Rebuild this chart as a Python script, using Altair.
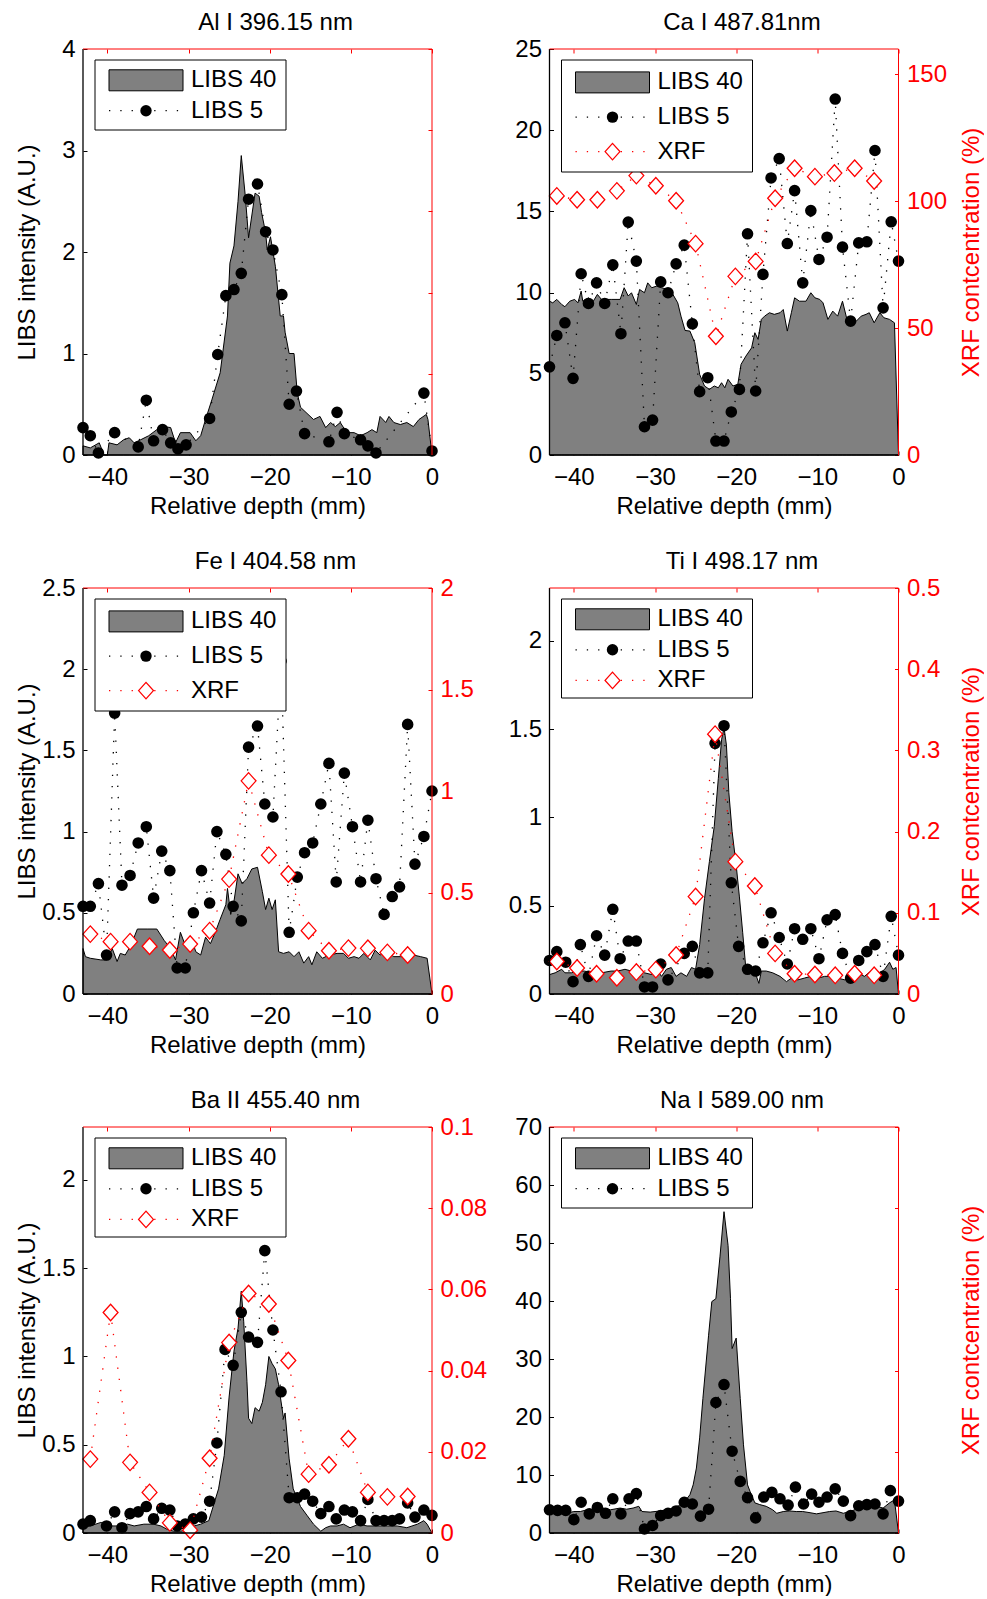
import altair as alt
import pandas as pd

FONT = "Liberation Sans"
GREY = "#808080"
RED = "#ff0000"
W, H = 349, 406
DIAMOND = "M-0.9,0L0,-1L0.9,0L0,1Z"
DOTS = [1.3, 10]

X_DOMAIN = [-43, 0]
X_TICKS = [-40, -30, -20, -10, 0]
LEGEND_LABELS = ["LIBS 40", "LIBS 5", "XRF"]
DEPTH_TITLE = "Relative depth (mm)"
LIBS_TITLE = "LIBS intensity (A.U.)"
XRF_TITLE = "XRF contcentration (%)"
NUM = "~r"

# ---- Al I 396.15 nm : (depth mm, intensity) ----
AL_LIBS40 = [(-43.0, 0.09), (-42.1, 0.07), (-41.0, 0.12), (-40.4, 0.0), (-40.0, 0.0), (-39.8, 0.12),
             (-38.8, 0.10), (-38.0, 0.15), (-37.3, 0.17), (-36.7, 0.12), (-35.9, 0.15), (-34.9, 0.19),
             (-33.9, 0.25), (-33.0, 0.28), (-32.2, 0.27), (-31.6, 0.12), (-31.0, 0.22), (-29.8, 0.22),
             (-29.1, 0.14), (-28.5, 0.19), (-27.9, 0.35), (-27.1, 0.55), (-26.1, 0.81), (-25.2, 1.37),
             (-24.9, 1.89), (-24.4, 2.06), (-23.9, 2.50), (-23.5, 2.95), (-23.0, 2.55), (-22.6, 2.14),
             (-21.8, 2.58), (-21.3, 2.55), (-21.0, 2.39), (-20.5, 2.19), (-20.3, 2.02), (-19.9, 2.15),
             (-19.3, 1.86), (-18.7, 1.37), (-18.3, 1.37), (-18.1, 1.21), (-17.6, 1.00), (-17.0, 1.00),
             (-16.6, 0.61), (-16.2, 0.47), (-15.4, 0.41), (-14.6, 0.35), (-13.8, 0.38), (-13.1, 0.27),
             (-12.5, 0.32), (-11.9, 0.28), (-11.3, 0.32), (-10.5, 0.22), (-9.6, 0.22), (-8.8, 0.19),
             (-8.0, 0.22), (-7.4, 0.25), (-6.8, 0.22), (-6.4, 0.38), (-5.7, 0.32), (-5.3, 0.38),
             (-4.7, 0.32), (-3.9, 0.30), (-3.1, 0.32), (-2.3, 0.28), (-1.6, 0.35), (-0.7, 0.40),
             (-0.5, 0.35), (0.0, 0.0)]
AL_LIBS5 = [(-43.0, 0.27), (-42.1, 0.19), (-41.1, 0.02), (-39.1, 0.22), (-36.2, 0.08), (-35.2, 0.54),
            (-34.3, 0.14), (-33.2, 0.25), (-32.2, 0.12), (-31.3, 0.06), (-30.3, 0.10), (-27.4, 0.36),
            (-26.4, 0.99), (-25.4, 1.57), (-24.4, 1.63), (-23.5, 1.79), (-22.6, 2.52), (-21.5, 2.67),
            (-20.5, 2.20), (-19.6, 2.02), (-18.5, 1.58), (-17.6, 0.50), (-16.7, 0.63), (-15.7, 0.21),
            (-12.7, 0.13), (-11.7, 0.42), (-10.8, 0.21), (-8.8, 0.15), (-7.9, 0.09), (-6.9, 0.02),
            (-1.0, 0.61), (0.0, 0.04)]
AL_XRF = []

# ---- Ca I 487.81 nm ----
CA_LIBS40 = [(-43.0, 9.47), (-42.6, 9.37), (-42.1, 9.58), (-41.5, 9.27), (-41.1, 9.13), (-40.5, 9.47),
             (-39.9, 9.58), (-39.5, 9.37), (-39.1, 10.09), (-38.9, 9.47), (-38.2, 9.68), (-37.6, 9.47),
             (-37.1, 9.89), (-36.6, 9.58), (-36.0, 9.58), (-35.4, 9.58), (-34.3, 9.58), (-33.8, 10.30),
             (-33.3, 9.79), (-32.9, 9.99), (-32.3, 9.27), (-31.9, 10.19), (-31.3, 9.99), (-30.9, 10.60),
             (-30.4, 10.30), (-29.8, 10.40), (-29.2, 10.30), (-28.4, 10.19), (-27.8, 9.89), (-27.2, 9.37),
             (-26.8, 8.55), (-26.3, 7.67), (-25.7, 7.63), (-25.1, 6.91), (-24.5, 4.96), (-23.9, 4.25),
             (-23.3, 4.04), (-22.7, 4.25), (-22.2, 4.14), (-21.8, 4.45), (-21.4, 4.14), (-21.0, 4.66),
             (-20.4, 4.25), (-19.8, 4.35), (-19.4, 5.58), (-18.8, 6.09), (-18.1, 6.60), (-17.7, 7.53),
             (-17.3, 7.12), (-16.9, 8.35), (-16.5, 8.55), (-15.9, 8.76), (-15.3, 8.66), (-14.6, 8.76),
             (-14.2, 8.96), (-13.7, 7.63), (-13.2, 8.76), (-12.8, 9.68), (-12.2, 9.47), (-11.4, 9.47),
             (-10.8, 9.99), (-10.3, 9.68), (-9.7, 9.58), (-9.3, 9.37), (-8.7, 8.35), (-8.1, 8.86),
             (-7.5, 8.55), (-6.9, 9.47), (-6.4, 8.45), (-5.8, 8.04), (-5.2, 8.24), (-4.6, 8.55),
             (-4.0, 8.66), (-3.6, 8.76), (-3.0, 8.14), (-2.3, 8.76), (-1.8, 8.45), (-1.1, 8.35),
             (-0.5, 8.14), (0.0, 0.0)]
CA_LIBS5 = [(-43.0, 5.43), (-42.1, 7.36), (-41.1, 8.14), (-40.1, 4.72), (-39.1, 11.16), (-38.2, 9.33),
            (-37.2, 10.60), (-36.2, 9.33), (-35.2, 11.71), (-34.2, 7.47), (-33.3, 14.34), (-32.3, 11.94),
            (-31.3, 1.74), (-30.3, 2.15), (-29.3, 10.66), (-28.4, 9.99), (-27.4, 11.77), (-26.4, 12.92),
            (-25.4, 8.08), (-24.5, 3.90), (-23.5, 4.76), (-22.5, 0.86), (-21.5, 0.86), (-20.6, 2.65),
            (-19.6, 4.04), (-18.6, 13.62), (-17.6, 3.94), (-16.7, 11.12), (-15.7, 17.06), (-14.7, 18.25),
            (-13.7, 13.02), (-12.8, 16.28), (-11.8, 10.60), (-10.8, 15.05), (-9.8, 12.04), (-8.8, 13.41),
            (-7.8, 21.92), (-6.9, 12.80), (-5.9, 8.24), (-4.9, 13.06), (-3.9, 13.13), (-2.9, 18.75),
            (-1.9, 9.06), (-0.9, 14.36), (0.0, 11.94)]
CA_XRF = [(-42.1, 102.1), (-39.6, 100.6), (-37.1, 100.6), (-34.7, 104.1), (-32.3, 110.1), (-29.9, 106.1),
          (-27.4, 100.2), (-25.0, 83.3), (-22.5, 46.8), (-20.1, 70.4), (-17.6, 76.3), (-15.2, 101.2),
          (-12.8, 113.0), (-10.3, 109.7), (-7.9, 111.1), (-5.4, 113.0), (-3.0, 108.0)]

# ---- Fe I 404.58 nm ----
FE_LIBS40 = [(-43.0, 0.28), (-42.7, 0.23), (-42.1, 0.22), (-40.8, 0.21), (-40.0, 0.21), (-39.4, 0.28),
             (-38.8, 0.20), (-38.4, 0.25), (-37.8, 0.24), (-37.1, 0.30), (-36.3, 0.40), (-35.1, 0.40),
             (-33.9, 0.40), (-33.0, 0.33), (-32.2, 0.28), (-31.6, 0.21), (-31.0, 0.38), (-30.4, 0.30),
             (-29.7, 0.35), (-29.1, 0.26), (-28.5, 0.24), (-27.9, 0.35), (-27.3, 0.31), (-26.7, 0.38),
             (-26.1, 0.46), (-25.4, 0.55), (-25.2, 0.65), (-24.8, 0.49), (-24.4, 0.57), (-23.9, 0.74),
             (-23.4, 0.68), (-22.8, 0.71), (-22.2, 0.77), (-21.5, 0.78), (-20.9, 0.63), (-20.5, 0.52),
             (-20.1, 0.59), (-19.7, 0.52), (-19.3, 0.58), (-18.9, 0.26), (-18.3, 0.25), (-17.6, 0.26),
             (-17.0, 0.23), (-16.4, 0.26), (-15.8, 0.19), (-15.2, 0.23), (-14.8, 0.18), (-14.2, 0.26),
             (-13.5, 0.22), (-12.7, 0.24), (-11.7, 0.25), (-10.9, 0.25), (-10.3, 0.22), (-9.6, 0.23),
             (-9.0, 0.22), (-8.4, 0.25), (-7.6, 0.21), (-7.0, 0.27), (-6.4, 0.24), (-5.5, 0.26),
             (-4.7, 0.23), (-3.9, 0.23), (-3.1, 0.23), (-2.3, 0.24), (-1.4, 0.23), (-0.6, 0.22),
             (0.0, 0.0)]
FE_LIBS5 = [(-43.0, 0.54), (-42.1, 0.54), (-41.1, 0.68), (-40.1, 0.24), (-39.1, 1.73), (-38.2, 0.67),
            (-37.2, 0.73), (-36.2, 0.93), (-35.2, 1.03), (-34.3, 0.59), (-33.3, 0.88), (-32.3, 0.76),
            (-31.4, 0.16), (-30.4, 0.16), (-29.4, 0.50), (-28.4, 0.76), (-27.4, 0.56), (-26.5, 1.00),
            (-25.4, 0.86), (-24.5, 0.54), (-23.5, 0.45), (-22.6, 1.52), (-21.5, 1.65), (-20.6, 1.17),
            (-19.6, 1.09), (-18.6, 2.05), (-17.6, 0.38), (-16.6, 0.72), (-15.7, 0.87), (-14.7, 0.93),
            (-13.7, 1.17), (-12.7, 1.42), (-11.8, 0.69), (-10.8, 1.36), (-9.8, 1.03), (-8.8, 0.69),
            (-7.9, 1.07), (-6.9, 0.71), (-5.9, 0.49), (-4.9, 0.60), (-4.0, 0.66), (-3.0, 1.66),
            (-2.1, 0.80), (-1.0, 0.97), (0.0, 1.25)]
FE_XRF = [(-42.1, 0.295), (-39.6, 0.258), (-37.2, 0.258), (-34.8, 0.235), (-32.3, 0.217), (-29.8, 0.246),
          (-27.4, 0.312), (-25.0, 0.566), (-22.6, 1.05), (-20.1, 0.684), (-17.7, 0.591), (-15.2, 0.312),
          (-12.7, 0.213), (-10.3, 0.226), (-7.9, 0.225), (-5.5, 0.205), (-3.0, 0.192)]

# ---- Ti I 498.17 nm ----
TI_LIBS40 = [(-43.0, 0.11), (-42.3, 0.12), (-41.5, 0.14), (-41.1, 0.12), (-40.3, 0.12), (-39.5, 0.13),
             (-38.7, 0.13), (-37.8, 0.12), (-36.6, 0.12), (-35.4, 0.13), (-34.6, 0.13), (-33.7, 0.14),
             (-32.9, 0.13), (-32.1, 0.15), (-31.3, 0.12), (-30.4, 0.11), (-29.8, 0.14), (-29.2, 0.10),
             (-28.6, 0.14), (-28.0, 0.15), (-27.4, 0.10), (-26.8, 0.12), (-26.1, 0.10), (-25.5, 0.15),
             (-25.0, 0.14), (-24.5, 0.28), (-23.9, 0.54), (-23.3, 0.75), (-22.7, 0.95), (-22.2, 1.22),
             (-21.8, 1.44), (-21.5, 1.51), (-21.2, 1.41), (-20.9, 1.14), (-20.5, 0.92), (-20.0, 0.73),
             (-19.6, 0.55), (-19.2, 0.35), (-18.8, 0.14), (-18.1, 0.12), (-17.5, 0.10), (-17.2, 0.06),
             (-16.9, 0.13), (-16.3, 0.13), (-15.5, 0.12), (-14.6, 0.10), (-13.8, 0.07), (-13.2, 0.09),
             (-12.4, 0.08), (-11.6, 0.09), (-10.8, 0.10), (-9.9, 0.09), (-9.1, 0.10), (-8.3, 0.10),
             (-7.5, 0.09), (-6.6, 0.08), (-5.8, 0.10), (-5.0, 0.12), (-4.2, 0.10), (-3.4, 0.13),
             (-2.5, 0.11), (-1.7, 0.14), (-1.1, 0.18), (-0.7, 0.14), (-0.3, 0.15), (0.0, 0.0)]
TI_LIBS5 = [(-43.0, 0.19), (-42.1, 0.24), (-41.0, 0.18), (-40.1, 0.07), (-39.2, 0.28), (-38.2, 0.10),
            (-37.2, 0.33), (-36.2, 0.22), (-35.2, 0.48), (-34.3, 0.20), (-33.3, 0.30), (-32.3, 0.30),
            (-31.3, 0.04), (-30.3, 0.04), (-29.3, 0.17), (-28.4, 0.08), (-26.4, 0.23), (-25.4, 0.27),
            (-24.5, 0.12), (-23.5, 0.12), (-22.6, 1.42), (-21.5, 1.52), (-20.6, 0.63), (-19.7, 0.27),
            (-18.6, 0.14), (-17.6, 0.13), (-16.7, 0.29), (-15.7, 0.46), (-14.7, 0.32), (-13.7, 0.17),
            (-12.8, 0.37), (-11.8, 0.31), (-10.8, 0.37), (-9.8, 0.20), (-8.8, 0.42), (-7.8, 0.45),
            (-6.9, 0.23), (-5.9, 0.09), (-4.9, 0.19), (-3.9, 0.24), (-2.9, 0.28), (-1.9, 0.10),
            (-0.9, 0.44), (0.0, 0.22)]
TI_XRF = [(-42.1, 0.040), (-39.6, 0.032), (-37.2, 0.025), (-34.7, 0.020), (-32.3, 0.027), (-29.9, 0.030),
          (-27.4, 0.048), (-25.0, 0.120), (-22.6, 0.320), (-20.1, 0.163), (-17.7, 0.133), (-15.2, 0.050),
          (-12.8, 0.025), (-10.3, 0.024), (-7.8, 0.023), (-5.4, 0.025), (-3.0, 0.023)]

# ---- Ba II 455.40 nm ----
BA_LIBS40 = [(-43.0, 0.03), (-42.1, 0.04), (-40.8, 0.06), (-39.6, 0.04), (-38.4, 0.04), (-37.5, 0.05),
             (-36.7, 0.04), (-35.5, 0.05), (-34.3, 0.05), (-33.4, 0.04), (-32.6, 0.02), (-31.8, 0.01),
             (-31.0, 0.01), (-30.2, 0.02), (-29.3, 0.04), (-28.5, 0.05), (-27.5, 0.07), (-26.9, 0.16),
             (-26.3, 0.25), (-25.6, 0.44), (-25.0, 0.77), (-24.4, 1.03), (-23.9, 1.16), (-23.5, 1.37),
             (-23.2, 1.20), (-22.8, 0.86), (-22.6, 0.65), (-22.2, 0.62), (-21.8, 0.71), (-21.3, 0.69),
             (-20.9, 0.74), (-20.5, 0.84), (-20.1, 1.00), (-19.7, 0.96), (-19.3, 0.93), (-18.9, 0.84),
             (-18.3, 0.65), (-18.1, 0.68), (-17.6, 0.42), (-17.1, 0.25), (-16.2, 0.15), (-15.4, 0.10),
             (-14.6, 0.05), (-13.7, 0.01), (-13.1, 0.03), (-12.5, 0.04), (-11.7, 0.04), (-10.9, 0.05),
             (-10.1, 0.03), (-9.0, 0.05), (-8.0, 0.04), (-6.8, 0.04), (-5.5, 0.04), (-4.3, 0.04),
             (-3.1, 0.03), (-1.8, 0.05), (-1.0, 0.07), (-0.6, 0.05), (0.0, 0.0)]
BA_LIBS5 = [(-43.0, 0.05), (-42.1, 0.07), (-40.1, 0.04), (-39.1, 0.12), (-38.2, 0.03), (-37.2, 0.11),
            (-36.2, 0.12), (-35.2, 0.15), (-34.3, 0.08), (-33.3, 0.14), (-32.3, 0.13), (-31.4, 0.04),
            (-30.4, 0.05), (-29.4, 0.08), (-28.4, 0.09), (-27.4, 0.18), (-26.5, 0.51), (-25.5, 1.04),
            (-24.5, 0.95), (-23.5, 1.25), (-22.6, 1.11), (-21.5, 1.08), (-20.6, 1.60), (-19.6, 1.15),
            (-18.6, 0.80), (-17.6, 0.20), (-16.6, 0.20), (-15.7, 0.22), (-14.7, 0.18), (-13.7, 0.11),
            (-12.7, 0.15), (-11.8, 0.08), (-10.8, 0.13), (-9.8, 0.12), (-8.8, 0.07), (-7.9, 0.19),
            (-6.9, 0.07), (-5.9, 0.07), (-4.9, 0.07), (-4.0, 0.08), (-3.0, 0.17), (-2.1, 0.09),
            (-1.0, 0.13), (0.0, 0.10)]
BA_XRF = [(-42.1, 0.0182), (-39.6, 0.0543), (-37.2, 0.0174), (-34.8, 0.0100), (-32.3, 0.0025),
          (-29.8, 0.0007), (-27.4, 0.0184), (-25.0, 0.0469), (-22.6, 0.0590), (-20.1, 0.0564),
          (-17.7, 0.0425), (-15.2, 0.0145), (-12.7, 0.0168), (-10.3, 0.0232), (-7.9, 0.0100),
          (-5.5, 0.0089), (-3.0, 0.0090)]

# ---- Na I 589.00 nm ----
NA_LIBS40 = [(-43.0, 3.7), (-41.7, 3.7), (-40.9, 3.4), (-40.0, 3.7), (-39.2, 3.7), (-38.4, 4.0),
             (-37.6, 3.8), (-36.4, 4.3), (-35.5, 4.0), (-34.3, 4.3), (-33.5, 4.1), (-32.7, 4.3),
             (-32.0, 4.6), (-31.6, 3.7), (-30.6, 3.6), (-29.4, 3.8), (-28.2, 4.1), (-27.1, 4.7),
             (-26.3, 5.5), (-25.7, 6.6), (-25.3, 8.3), (-24.9, 11.2), (-24.5, 16.4), (-24.1, 23.2),
             (-23.4, 34.1), (-23.0, 39.9), (-22.5, 40.4), (-22.0, 47.6), (-21.5, 55.4), (-21.0, 49.6),
             (-20.7, 40.4), (-20.5, 31.8), (-20.0, 33.6), (-19.5, 23.2), (-19.1, 15.2), (-18.6, 8.3),
             (-18.3, 7.2), (-17.7, 5.2), (-17.1, 4.9), (-16.3, 4.6), (-15.5, 4.0), (-15.0, 3.4),
             (-14.2, 3.7), (-13.4, 3.8), (-12.6, 3.7), (-11.8, 3.7), (-10.9, 3.5), (-10.1, 3.3),
             (-9.3, 3.5), (-8.5, 3.7), (-7.7, 3.8), (-6.8, 3.4), (-6.0, 3.7), (-5.2, 4.1),
             (-4.4, 4.3), (-3.6, 4.3), (-2.7, 4.6), (-1.9, 4.3), (-1.1, 5.2), (-0.5, 5.7), (0.0, 0.0)]
NA_LIBS5 = [(-43.0, 4.0), (-42.0, 3.9), (-41.0, 3.9), (-40.0, 2.3), (-39.1, 5.3), (-38.1, 3.3),
            (-37.1, 4.4), (-36.1, 3.4), (-35.2, 5.9), (-34.2, 3.3), (-33.2, 5.9), (-32.3, 6.8),
            (-31.3, 0.7), (-30.3, 1.3), (-29.3, 3.0), (-28.4, 3.4), (-27.4, 3.8), (-26.4, 5.3),
            (-25.4, 5.0), (-24.4, 2.9), (-23.4, 4.1), (-22.5, 22.5), (-21.5, 25.6), (-20.5, 14.1),
            (-19.5, 8.9), (-18.6, 6.1), (-17.6, 2.6), (-16.6, 6.2), (-15.6, 7.0), (-14.6, 5.9),
            (-13.6, 4.8), (-12.7, 7.9), (-11.7, 5.0), (-10.7, 6.7), (-9.8, 5.3), (-8.8, 6.2),
            (-7.8, 7.6), (-6.8, 5.5), (-5.9, 3.0), (-4.9, 4.7), (-3.9, 4.9), (-2.9, 5.0),
            (-1.9, 3.3), (-1.0, 7.3), (0.0, 5.5)]
NA_XRF = []


def frame(pairs, col):
    return pd.DataFrame(pairs, columns=["depth", col]) if pairs else pd.DataFrame({"depth": [], col: []})


def legend_layers(box_h, centers, with_xrf):
    one = pd.DataFrame({"label": [""]})
    out = [alt.Chart(one).mark_rect(fill="white", stroke="black", strokeWidth=1).encode(
        x=alt.value(12), x2=alt.value(203), y=alt.value(11), y2=alt.value(11 + box_h))]
    n = 3 if with_xrf else 2
    for i in range(n):
        cy = centers[i]
        if i == 0:
            out.append(alt.Chart(one).mark_rect(fill=GREY, stroke="black", strokeWidth=1).encode(
                x=alt.value(26), x2=alt.value(100), y=alt.value(cy - 10.5), y2=alt.value(cy + 10.5)))
        else:
            colr = "black" if i == 1 else RED
            out.append(alt.Chart(one).mark_rule(color=colr, strokeWidth=1.3, strokeDash=DOTS).encode(
                x=alt.value(26), x2=alt.value(100), y=alt.value(cy)))
            if i == 1:
                out.append(alt.Chart(one).mark_point(shape="circle", filled=True, color="black",
                                                     size=130, opacity=1).encode(
                    x=alt.value(63), y=alt.value(cy)))
            else:
                out.append(alt.Chart(one).mark_point(shape=DIAMOND, filled=True, fill="white", stroke=RED,
                                                     strokeWidth=1.3, size=272, opacity=1).encode(
                    x=alt.value(63), y=alt.value(cy)))
        lab = pd.DataFrame({"label": [LEGEND_LABELS[i]]})
        out.append(alt.Chart(lab).mark_text(align="left", baseline="middle", font=FONT, fontSize=24,
                                            color="black").encode(
            x=alt.value(108), y=alt.value(cy), text="label:N"))
    return out


def panel(title, libs40, libs5, xrf, ydom, yticks, rdom, rticks, rlabels, left_title, right_title,
          box_h, centers):
    xs = alt.Scale(domain=X_DOMAIN, nice=False, zero=False)
    ys = alt.Scale(domain=ydom, nice=False, zero=False)
    rs = alt.Scale(domain=rdom, nice=False, zero=False)
    d40 = frame(libs40, "intensity")
    d5 = frame(libs5, "intensity")
    dx = frame(xrf, "xrf")

    area = alt.Chart(d40).mark_area(fill=GREY, stroke="black", strokeWidth=1, fillOpacity=1).encode(
        x=alt.X("depth:Q", scale=xs, axis=alt.Axis(
            orient="bottom", values=X_TICKS, format=NUM, offset=-4, tickSize=4, tickColor="black",
            domain=False, grid=False, labelPadding=10, labelFlush=False, labelOverlap=False,
            title=DEPTH_TITLE, titleX=W / 2, titleY=55, titleBaseline="middle")),
        y=alt.Y("intensity:Q", scale=ys, axis=alt.Axis(
            orient="left", values=yticks, format=NUM, offset=-4, tickSize=4, tickColor="black",
            domain=False, grid=False, labelPadding=8, labelFlush=False, labelOverlap=False,
            title=left_title, titleX=-60, titleBaseline="middle", titleAngle=270)),
    )
    line5 = alt.Chart(d5).mark_line(color="black", strokeWidth=1.3, strokeDash=DOTS).encode(
        x=alt.X("depth:Q", scale=xs, axis=alt.Axis(
            orient="top", values=X_TICKS, offset=-4, tickSize=4, tickColor=RED, domain=False,
            labels=False, grid=False, title=None)),
        y=alt.Y("intensity:Q", scale=ys, axis=None),
    )
    pts5 = alt.Chart(d5).mark_point(shape="circle", filled=True, color="black", size=135, opacity=1).encode(
        x=alt.X("depth:Q", scale=xs, axis=None),
        y=alt.Y("intensity:Q", scale=ys, axis=None),
    )
    xline = alt.Chart(dx).mark_line(color=RED, strokeWidth=1.3, strokeDash=DOTS).encode(
        x=alt.X("depth:Q", scale=xs, axis=None),
        y=alt.Y("xrf:Q", scale=rs, axis=None),
    )
    xpts = alt.Chart(dx).mark_point(shape=DIAMOND, filled=True, fill="white", stroke=RED, strokeWidth=1.3,
                                    size=272, opacity=1).encode(
        x=alt.X("depth:Q", scale=xs, axis=None),
        y=alt.Y("xrf:Q", scale=rs, axis=alt.Axis(
            orient="right", values=rticks, format=NUM, offset=-4, tickSize=4, tickColor=RED,
            labelColor=RED, domain=False, grid=False, labelPadding=8, labels=rlabels,
            labelFlush=False, labelOverlap=False,
            title=right_title, titleColor=RED, titleX=76.7, titleAngle=270, titleBaseline="middle")),
    )
    one = pd.DataFrame({"label": [""]})
    borders = [
        alt.Chart(one).mark_rule(color="black", strokeWidth=1.3).encode(
            x=alt.value(0), y=alt.value(0), y2=alt.value(H)),
        alt.Chart(one).mark_rule(color="black", strokeWidth=1.3).encode(
            x=alt.value(0), x2=alt.value(W), y=alt.value(H)),
        alt.Chart(one).mark_rule(color=RED, strokeWidth=1).encode(
            x=alt.value(0), x2=alt.value(W), y=alt.value(0)),
        alt.Chart(one).mark_rule(color=RED, strokeWidth=1).encode(
            x=alt.value(W), y=alt.value(0), y2=alt.value(H)),
    ]
    layers = [area, line5, pts5, xline, xpts] + borders + legend_layers(box_h, centers, bool(xrf))
    return alt.layer(*layers).resolve_scale(y="independent").resolve_axis(
        x="independent", y="independent").properties(
        width=W, height=H,
        title=alt.TitleParams(text=title, font=FONT, fontSize=24, fontWeight="normal", anchor="middle",
                              frame="group", dx=18, offset=-17, baseline="alphabetic", color="black"))


SMALL_BOX = (70, [31.3, 61.7])
MID_BOX = (99, [31.3, 61.8, 92.4])
BIG_BOX = (112, [33.4, 68.1, 102.6])

panels = [
    panel("Al I 396.15 nm", AL_LIBS40, AL_LIBS5, AL_XRF, [0, 4], [0, 1, 2, 3, 4],
          [0, 1], [0, 0.2, 0.4, 0.6, 0.8, 1], False, LIBS_TITLE, None, *SMALL_BOX),
    panel("Ca I 487.81nm", CA_LIBS40, CA_LIBS5, CA_XRF, [0, 25], [0, 5, 10, 15, 20, 25],
          [0, 160], [0, 50, 100, 150], True, None, XRF_TITLE, *BIG_BOX),
    panel("Fe I 404.58 nm", FE_LIBS40, FE_LIBS5, FE_XRF, [0, 2.5], [0, 0.5, 1, 1.5, 2, 2.5],
          [0, 2], [0, 0.5, 1, 1.5, 2], True, LIBS_TITLE, None, *BIG_BOX),
    panel("Ti I 498.17 nm", TI_LIBS40, TI_LIBS5, TI_XRF, [0, 2.3], [0, 0.5, 1, 1.5, 2],
          [0, 0.5], [0, 0.1, 0.2, 0.3, 0.4, 0.5], True, None, XRF_TITLE, *MID_BOX),
    panel("Ba II 455.40 nm", BA_LIBS40, BA_LIBS5, BA_XRF, [0, 2.3], [0, 0.5, 1, 1.5, 2],
          [0, 0.1], [0, 0.02, 0.04, 0.06, 0.08, 0.1], True, LIBS_TITLE, None, *MID_BOX),
    panel("Na I 589.00 nm", NA_LIBS40, NA_LIBS5, NA_XRF, [0, 70], [0, 10, 20, 30, 40, 50, 60, 70],
          [0, 1], [0, 0.2, 0.4, 0.6, 0.8, 1], False, None, XRF_TITLE, *SMALL_BOX),
]

chart = alt.concat(*panels, columns=2, spacing={"row": 133, "column": 117.5}, bounds="flush").properties(
    padding={"left": 15, "top": 11, "right": 0, "bottom": 0}
).configure_view(stroke=None).configure_axis(
    labelFont=FONT, labelFontSize=24, labelColor="black", titleFont=FONT, titleFontSize=24,
    titleFontWeight="normal", titleColor="black"
).configure_title(font=FONT, fontSize=24, fontWeight="normal", color="black")

chart.save("out.html", embed_options={"renderer": "svg", "actions": False})
